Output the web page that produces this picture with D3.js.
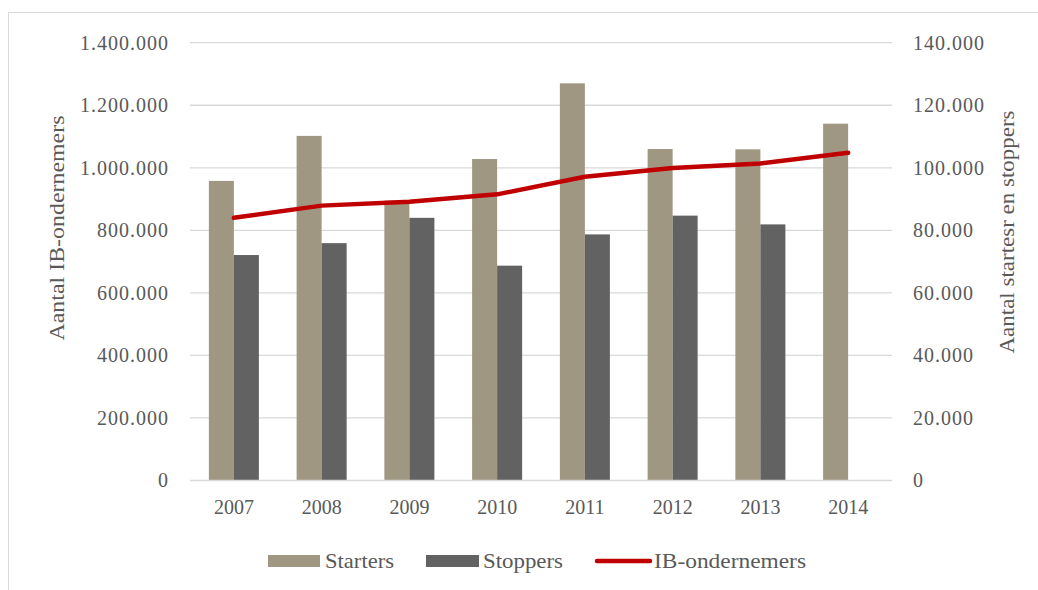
<!DOCTYPE html>
<html><head><meta charset="utf-8">
<script src="https://cdn.jsdelivr.net/npm/d3@7"></script>
<style>
body{margin:0;background:#fff;}
text{font-family:"Liberation Serif","DejaVu Serif",serif;fill:#595959;}
</style></head>
<body>
<svg id="c" width="1038" height="590"></svg>
<script>
const years = ["2007","2008","2009","2010","2011","2012","2013","2014"];
const starters = [95800, 110200, 89500, 102800, 127000, 106000, 105900, 114100];
const stoppers = [72100, 75900, 84000, 68700, 78700, 84700, 81900, null];
const ibOndernemers = [840000, 879000, 891500, 915000, 971500, 999000, 1014000, 1048000];
const leftTicks = [0,200000,400000,600000,800000,1000000,1200000,1400000];
const rightTicks = [0,20000,40000,60000,80000,100000,120000,140000];
const seriesNames = ["Starters","Stoppers","IB-ondernemers"];
const colors = {Starters:"#A09783", Stoppers:"#626262", "IB-ondernemers":"#C00000"};

const svg = d3.select("#c");
const fmt = v => d3.format(",")(v).replace(/,/g,".");

svg.append("rect").attr("x",8.5).attr("y",12.5).attr("width",1040).attr("height",590)
  .attr("fill","none").attr("stroke","#d9d9d9");

const x = d3.scaleBand().domain(years).range([190,892]).padding(0);
const yL = d3.scaleLinear().domain([0,1400000]).range([480.5,42.7]);
const yR = d3.scaleLinear().domain([0,140000]).range([480.5,42.7]);
const bw = x.bandwidth()*0.285;

// gridlines
svg.append("g").selectAll("line").data(leftTicks.slice(1)).join("line")
  .attr("x1",190).attr("x2",892).attr("y1",d=>yL(d)).attr("y2",d=>yL(d))
  .attr("stroke","#d9d9d9").attr("stroke-width",1.3);

// bars
svg.append("g").selectAll("rect").data(years.map((y,i)=>({y,v:starters[i]}))).join("rect")
  .attr("x",d=>x(d.y)+x.bandwidth()/2-bw).attr("width",bw)
  .attr("y",d=>yR(d.v)).attr("height",d=>yR(0)-yR(d.v)).attr("fill",colors.Starters);
svg.append("g").selectAll("rect").data(years.map((y,i)=>({y,v:stoppers[i]})).filter(d=>d.v!=null)).join("rect")
  .attr("x",d=>x(d.y)+x.bandwidth()/2).attr("width",bw)
  .attr("y",d=>yR(d.v)).attr("height",d=>yR(0)-yR(d.v)).attr("fill",colors.Stoppers);

// baseline
svg.append("line").attr("x1",190).attr("x2",892).attr("y1",yL(0)).attr("y2",yL(0))
  .attr("stroke","#d9d9d9").attr("stroke-width",1.6);

// line
const line = d3.line().x((d,i)=>x(years[i])+x.bandwidth()/2).y(d=>yL(d));
svg.append("path").datum(ibOndernemers).attr("d",line).attr("fill","none")
  .attr("stroke",colors["IB-ondernemers"]).attr("stroke-width",4.5)
  .attr("stroke-linecap","round").attr("stroke-linejoin","round");

// axes
const axL = d3.axisLeft(yL).tickValues(leftTicks).tickFormat(fmt).tickSize(0).tickPadding(0);
const gL = svg.append("g").attr("transform","translate(169,0)").call(axL);
gL.select(".domain").remove();
gL.selectAll("text").attr("font-size",20).attr("fill","#595959").style("font-family","Liberation Serif").attr("letter-spacing",1);

const axR = d3.axisRight(yR).tickValues(rightTicks).tickFormat(fmt).tickSize(0).tickPadding(0);
const gR = svg.append("g").attr("transform","translate(913,0)").call(axR);
gR.select(".domain").remove();
gR.selectAll("text").attr("font-size",20).attr("fill","#595959").style("font-family","Liberation Serif").attr("letter-spacing",1);

const axB = d3.axisBottom(x).tickSize(0).tickPadding(0);
const gB = svg.append("g").attr("transform","translate(0,500)").call(axB);
gB.select(".domain").remove();
gB.selectAll("text").attr("font-size",20).attr("fill","#595959").style("font-family","Liberation Serif").attr("dy","0.71em");

// axis titles
svg.append("text").attr("transform","translate(64,228) rotate(-90)").attr("text-anchor","middle")
  .attr("font-size",21).attr("textLength",225).attr("lengthAdjust","spacingAndGlyphs").text("Aantal IB-ondernemers");
svg.append("text").attr("transform","translate(1014,232) rotate(-90)").attr("text-anchor","middle")
  .attr("font-size",21).attr("textLength",243).attr("lengthAdjust","spacingAndGlyphs").text("Aantal startesr en stoppers");

// legend
const lg = svg.append("g");
const leg = [
  {n:"Starters", sx:268, sw:52, tx:325, tl:69, type:"rect"},
  {n:"Stoppers", sx:426, sw:53, tx:483, tl:80, type:"rect"},
  {n:"IB-ondernemers", sx:597, sw:53, tx:654, tl:152, type:"line"}
];
leg.forEach(d=>{
  if(d.type==="rect") lg.append("rect").attr("x",d.sx).attr("y",555).attr("width",d.sw).attr("height",12).attr("fill",colors[d.n]);
  else lg.append("line").attr("x1",d.sx).attr("x2",d.sx+d.sw).attr("y1",561).attr("y2",561)
    .attr("stroke",colors[d.n]).attr("stroke-width",4.5).attr("stroke-linecap","round");
  lg.append("text").attr("x",d.tx).attr("y",568).attr("font-size",21)
    .attr("textLength",d.tl).attr("lengthAdjust","spacingAndGlyphs").text(d.n);
});
</script>
</body></html>
